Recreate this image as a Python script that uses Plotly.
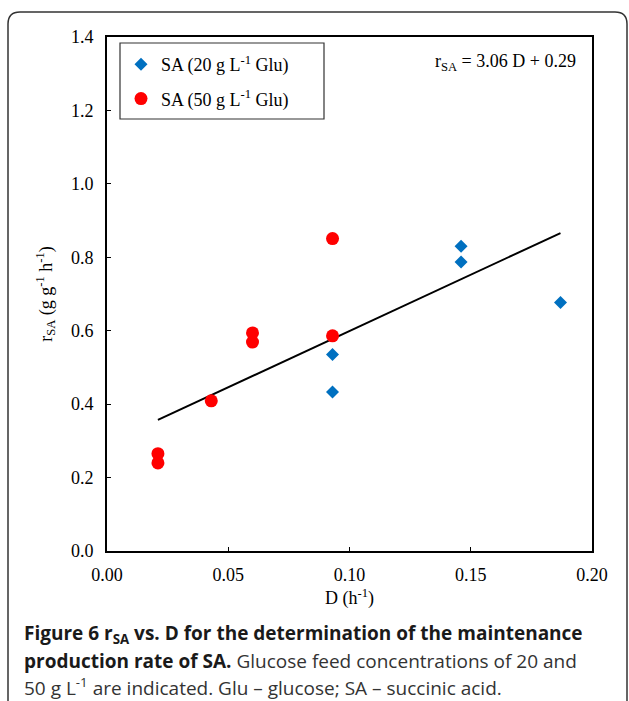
import plotly.graph_objects as go

# Data
d20 = [0.093, 0.093, 0.146, 0.146, 0.187]
r20 = [0.535, 0.433, 0.830, 0.787, 0.677]
d50 = [0.021, 0.021, 0.043, 0.060, 0.060, 0.093, 0.093]
r50 = [0.265, 0.240, 0.409, 0.594, 0.569, 0.851, 0.586]
fit_d = [0.021, 0.187]
fit_r = [0.357, 0.866]
x_ticks = [0.00, 0.05, 0.10, 0.15, 0.20]
y_ticks = [0.0, 0.2, 0.4, 0.6, 0.8, 1.0, 1.2, 1.4]

W, H = 629, 701
L, R, T, B = 107, 37, 37, 150
PW, PH = W - L - R, H - T - B

def px(x):
    return (x - L) / PW

def py(y):
    return (H - B - y) / PH

SERIF = "Liberation Serif"
fig = go.Figure()
fig.add_trace(go.Scatter(x=fit_d, y=fit_r, mode="lines",
                         line=dict(color="black", width=2), showlegend=False, hoverinfo="skip"))
fig.add_trace(go.Scatter(x=d20, y=r20, mode="markers", name="SA (20 g L<sup>-1</sup> Glu)",
                         legendgroup="a",
                         marker=dict(symbol="diamond", size=10, color="#0070C0")))
fig.add_trace(go.Scatter(x=d50, y=r50, mode="markers", name="SA (50 g L<sup>-1</sup> Glu)",
                         legendgroup="b",
                         marker=dict(symbol="circle", size=13, color="#FF0000")))

axis_common = dict(showline=True, linecolor="black", linewidth=2, mirror=True,
                   ticks="inside", ticklen=4, tickwidth=1, tickcolor="black",
                   showgrid=False, zeroline=False,
                   tickfont=dict(family=SERIF, size=18, color="black"))
fig.update_xaxes(range=[0, 0.2], tickvals=x_ticks, ticktext=[f"{v:.2f}" for v in x_ticks],
                 title=dict(text="D (h<sup>-1</sup>)", font=dict(family=SERIF, size=18, color="black"),
                            standoff=8),
                 ticklabelstandoff=6, **axis_common)
fig.update_yaxes(range=[0, 1.4], tickvals=y_ticks, ticktext=[f"{v:.1f}" for v in y_ticks],
                 title=dict(text="r<sub>SA</sub> (g g<sup>-1</sup> h<sup>-1</sup>)",
                            font=dict(family=SERIF, size=18, color="black"), standoff=14),
                 ticklabelstandoff=8, **axis_common)

fig.update_layout(
    width=W, height=H, margin=dict(l=L, r=R, t=T, b=B, autoexpand=False),
    plot_bgcolor="white", paper_bgcolor="white",
    showlegend=True,
    legend=dict(x=px(121), y=py(46), xanchor="left", yanchor="top",
                borderwidth=0, bgcolor="rgba(0,0,0,0)",
                font=dict(family=SERIF, size=18, color="black"),
                tracegroupgap=8, itemsizing="trace"),
)

# legend frame
fig.add_shape(type="rect", xref="paper", yref="paper",
              x0=px(120), x1=px(324), y0=py(119), y1=py(43),
              line=dict(color="#333333", width=1.2), fillcolor="white", layer="below")

# equation annotation
fig.add_annotation(xref="paper", yref="paper", x=px(578), y=py(62), xanchor="right", yanchor="middle",
                   text="r<sub>SA</sub> = 3.06 D + 0.29", showarrow=False,
                   font=dict(family=SERIF, size=18, color="black"))

# caption
CAP = "Open Sans"
cap_lines = [
    ("<b>Figure 6 r<sub>SA</sub> vs. D for the determination of the maintenance</b>", 634),
    ("<b>production rate of SA.</b> <span style='color:#333333'>Glucose feed concentrations of 20 and</span>", 661),
    ("<span style='color:#333333'>50 g L<sup>-1</sup> are indicated. Glu – glucose; SA – succinic acid.</span>", 687),
]
for txt, yy in cap_lines:
    fig.add_annotation(xref="paper", yref="paper", x=px(22), y=py(yy), xanchor="left", yanchor="middle",
                       text=txt, showarrow=False, align="left",
                       font=dict(family=CAP, size=19, color="#1a1a1a"))

# rounded outer frame
x0, x1 = px(8), px(627)
y0, y1 = py(12), py(760)
rx, ry = 12 / PW, 12 / PH
path = (f"M {x0},{y1} L {x0},{y0 - ry} Q {x0},{y0} {x0 + rx},{y0} "
        f"L {x1 - rx},{y0} Q {x1},{y0} {x1},{y0 - ry} L {x1},{y1}")
fig.add_shape(type="path", xref="paper", yref="paper", path=path,
              line=dict(color="#333333", width=1.5), layer="below")

fig.write_html("out.html", config={"displayModeBar": False},
               post_script="document.body.style.margin='0';document.body.style.overflow='hidden';")
